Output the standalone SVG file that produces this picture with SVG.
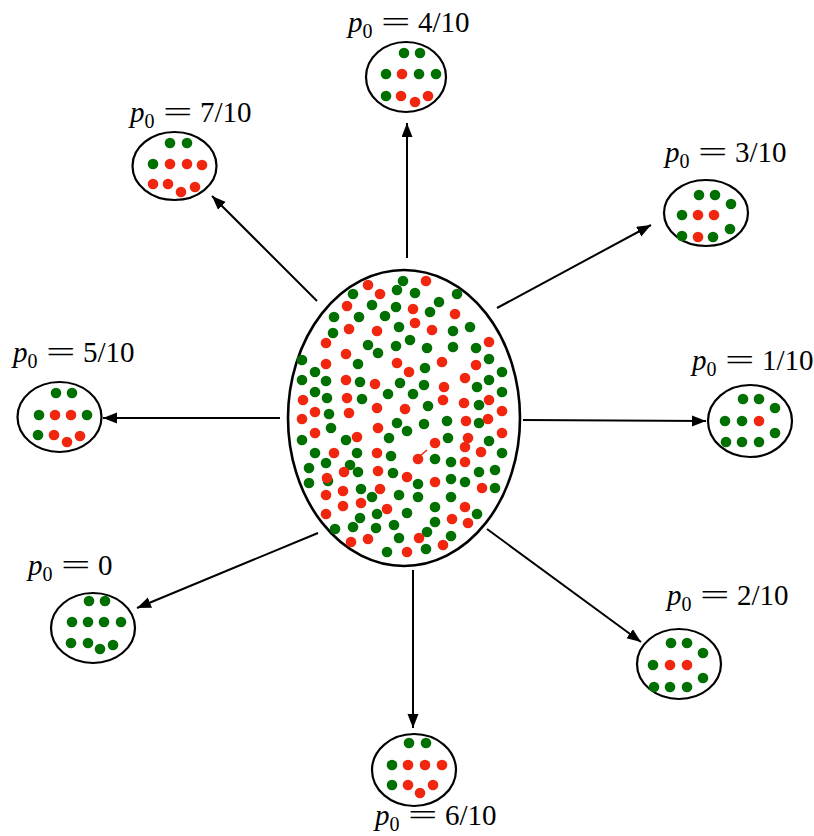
<svg xmlns="http://www.w3.org/2000/svg" width="814" height="836" viewBox="0 0 814 836">
  <style>
    .ring { fill: #ffffff; stroke: #000000; stroke-width: 2.2; }
    .big { stroke-width: 2.6; }
    .g { fill: #007000; }
    .r { fill: #f0260f; }
    .edge { stroke: #000000; stroke-width: 2; fill: none; marker-end: url(#tip); }
    .lbl text { font-family: "Liberation Serif", "Times New Roman", serif; font-size: 29px; fill: #000000; }
    .it { font-style: italic; }
    .sub { font-size: 20px; }
  </style>
  <defs>
    <marker id="tip" markerUnits="userSpaceOnUse" markerWidth="16" markerHeight="12" refX="14" refY="5.5" orient="auto">
      <path d="M0,0 L14,5.5 L0,11 Z" fill="#000000"/>
    </marker>
  </defs>
  <rect width="814" height="836" fill="#ffffff"/>

  <!-- connectors -->
  <g id="connectors">
    <line class="edge" x1="407" y1="258" x2="407" y2="123"/>
    <line class="edge" x1="317" y1="301" x2="212" y2="196"/>
    <line class="edge" x1="497" y1="308" x2="651" y2="225"/>
    <line class="edge" x1="280" y1="418" x2="103" y2="418"/>
    <line class="edge" x1="523" y1="420" x2="706" y2="421"/>
    <line class="edge" x1="318" y1="533" x2="137" y2="608"/>
    <line class="edge" x1="413" y1="570" x2="413" y2="728"/>
    <line class="edge" x1="487" y1="529" x2="641" y2="642"/>
  </g>

  <!-- central population -->
  <g id="population">
    <ellipse class="ring big" cx="404" cy="418" rx="116" ry="148"/>
    <g class="g">
      <circle cx="403" cy="281" r="5.3"/><circle cx="397" cy="290" r="5.3"/><circle cx="353" cy="294" r="5.3"/>
      <circle cx="372" cy="305" r="5.3"/><circle cx="396" cy="307" r="5.3"/><circle cx="334" cy="317" r="5.3"/>
      <circle cx="359" cy="317" r="5.3"/><circle cx="385" cy="316" r="5.3"/><circle cx="333" cy="333" r="5.3"/>
      <circle cx="399" cy="327" r="5.3"/><circle cx="368" cy="345" r="5.3"/><circle cx="378" cy="353" r="5.3"/>
      <circle cx="396" cy="346" r="5.3"/><circle cx="410" cy="340" r="5.3"/><circle cx="302" cy="360" r="5.3"/>
      <circle cx="358" cy="364" r="5.3"/><circle cx="315" cy="372" r="5.3"/><circle cx="302" cy="380" r="5.3"/>
      <circle cx="326" cy="381" r="5.3"/><circle cx="360" cy="382" r="5.3"/><circle cx="400" cy="383" r="5.3"/>
      <circle cx="315" cy="392" r="5.3"/><circle cx="388" cy="394" r="5.3"/><circle cx="327" cy="398" r="5.3"/>
      <circle cx="362" cy="399" r="5.3"/><circle cx="329" cy="414" r="5.3"/>
      <circle cx="415" cy="293" r="5.3"/><circle cx="439" cy="302" r="5.3"/><circle cx="457" cy="294" r="5.3"/>
      <circle cx="430" cy="312" r="5.3"/><circle cx="453" cy="331" r="5.3"/><circle cx="470" cy="327" r="5.3"/>
      <circle cx="427" cy="348" r="5.3"/><circle cx="453" cy="347" r="5.3"/><circle cx="476" cy="348" r="5.3"/>
      <circle cx="489" cy="359" r="5.3"/><circle cx="425" cy="368" r="5.3"/><circle cx="502" cy="372" r="5.3"/>
      <circle cx="489" cy="380" r="5.3"/><circle cx="424" cy="385" r="5.3"/><circle cx="477" cy="387" r="5.3"/>
      <circle cx="502" cy="392" r="5.3"/><circle cx="413" cy="394" r="5.3"/><circle cx="479" cy="405" r="5.3"/>
      <circle cx="428" cy="406" r="5.3"/>
      <circle cx="331" cy="428" r="5.3"/><circle cx="397" cy="423" r="5.3"/><circle cx="407" cy="431" r="5.3"/>
      <circle cx="302" cy="440" r="5.3"/><circle cx="346" cy="440" r="5.3"/><circle cx="389" cy="438" r="5.3"/>
      <circle cx="315" cy="453" r="5.3"/><circle cx="357" cy="453" r="5.3"/><circle cx="391" cy="456" r="5.3"/>
      <circle cx="326" cy="463" r="5.3"/><circle cx="350" cy="465" r="5.3"/><circle cx="309" cy="468" r="5.3"/>
      <circle cx="358" cy="472" r="5.3"/><circle cx="393" cy="473" r="5.3"/><circle cx="328" cy="481" r="5.3"/>
      <circle cx="309" cy="483" r="5.3"/><circle cx="361" cy="489" r="5.3"/><circle cx="372" cy="497" r="5.3"/>
      <circle cx="399" cy="495" r="5.3"/><circle cx="377" cy="514" r="5.3"/><circle cx="407" cy="513" r="5.3"/>
      <circle cx="360" cy="518" r="5.3"/><circle cx="335" cy="529" r="5.3"/><circle cx="353" cy="527" r="5.3"/>
      <circle cx="376" cy="528" r="5.3"/><circle cx="394" cy="525" r="5.3"/><circle cx="399" cy="538" r="5.3"/>
      <circle cx="387" cy="552" r="5.3"/>
      <circle cx="479" cy="423" r="5.3"/><circle cx="447" cy="421" r="5.3"/><circle cx="424" cy="424" r="5.3"/>
      <circle cx="448" cy="438" r="5.3"/><circle cx="489" cy="441" r="5.3"/><circle cx="502" cy="453" r="5.3"/>
      <circle cx="435" cy="459" r="5.3"/><circle cx="451" cy="462" r="5.3"/><circle cx="479" cy="472" r="5.3"/>
      <circle cx="495" cy="470" r="5.3"/><circle cx="418" cy="484" r="5.3"/><circle cx="451" cy="479" r="5.3"/>
      <circle cx="465" cy="482" r="5.3"/><circle cx="495" cy="488" r="5.3"/><circle cx="418" cy="497" r="5.3"/>
      <circle cx="451" cy="497" r="5.3"/><circle cx="435" cy="507" r="5.3"/><circle cx="477" cy="514" r="5.3"/>
      <circle cx="435" cy="522" r="5.3"/><circle cx="427" cy="532" r="5.3"/><circle cx="451" cy="536" r="5.3"/>
      <circle cx="426" cy="549" r="5.3"/>
    </g>
    <g class="r">
      <circle cx="368" cy="285" r="5.3"/><circle cx="380" cy="294" r="5.3"/><circle cx="347" cy="306" r="5.3"/>
      <circle cx="349" cy="329" r="5.3"/><circle cx="377" cy="331" r="5.3"/><circle cx="326" cy="343" r="5.3"/>
      <circle cx="346" cy="354" r="5.3"/><circle cx="326" cy="364" r="5.3"/><circle cx="397" cy="363" r="5.3"/>
      <circle cx="346" cy="380" r="5.3"/><circle cx="375" cy="384" r="5.3"/><circle cx="303" cy="400" r="5.3"/>
      <circle cx="347" cy="398" r="5.3"/><circle cx="377" cy="408" r="5.3"/><circle cx="405" cy="409" r="5.3"/>
      <circle cx="315" cy="412" r="5.3"/><circle cx="349" cy="413" r="5.3"/>
      <circle cx="426" cy="281" r="5.3"/><circle cx="413" cy="309" r="5.3"/><circle cx="455" cy="314" r="5.3"/>
      <circle cx="415" cy="323" r="5.3"/><circle cx="432" cy="330" r="5.3"/><circle cx="489" cy="342" r="5.3"/>
      <circle cx="442" cy="362" r="5.3"/><circle cx="476" cy="365" r="5.3"/><circle cx="409" cy="372" r="5.3"/>
      <circle cx="465" cy="378" r="5.3"/><circle cx="444" cy="387" r="5.3"/><circle cx="443" cy="400" r="5.3"/>
      <circle cx="464" cy="403" r="5.3"/><circle cx="489" cy="400" r="5.3"/><circle cx="502" cy="411" r="5.3"/>
      <circle cx="302" cy="419" r="5.3"/><circle cx="315" cy="433" r="5.3"/><circle cx="378" cy="428" r="5.3"/>
      <circle cx="357" cy="437" r="5.3"/><circle cx="334" cy="453" r="5.3"/><circle cx="377" cy="453" r="5.3"/>
      <circle cx="344" cy="472" r="5.3"/><circle cx="378" cy="471" r="5.3"/><circle cx="407" cy="477" r="5.3"/>
      <circle cx="327" cy="478" r="5.3"/><circle cx="343" cy="491" r="5.3"/><circle cx="380" cy="489" r="5.3"/>
      <circle cx="326" cy="495" r="5.3"/><circle cx="343" cy="506" r="5.3"/><circle cx="361" cy="503" r="5.3"/>
      <circle cx="387" cy="509" r="5.3"/><circle cx="326" cy="514" r="5.3"/><circle cx="351" cy="542" r="5.3"/>
      <circle cx="368" cy="539" r="5.3"/><circle cx="407" cy="552" r="5.3"/>
      <circle cx="488" cy="419" r="5.3"/><circle cx="466" cy="421" r="5.3"/><circle cx="502" cy="433" r="5.3"/>
      <circle cx="468" cy="438" r="5.3"/><circle cx="465" cy="447" r="5.3"/><circle cx="435" cy="443" r="5.3"/>
      <circle cx="481" cy="452" r="5.3"/><circle cx="418" cy="459" r="5.3"/><circle cx="465" cy="462" r="5.3"/>
      <circle cx="435" cy="482" r="5.3"/><circle cx="482" cy="488" r="5.3"/><circle cx="465" cy="507" r="5.3"/>
      <circle cx="452" cy="519" r="5.3"/><circle cx="468" cy="523" r="5.3"/><circle cx="419" cy="538" r="5.3"/>
      <circle cx="443" cy="545" r="5.3"/>
    </g>
    <line x1="420" y1="456" x2="427" y2="450" stroke="#f0260f" stroke-width="1.6"/>
  </g>

  <!-- sample p0 = 4/10 -->
  <g id="sample-4">
    <g class="lbl">
      <text x="348" y="32"><tspan class="it">p</tspan><tspan class="sub" dy="6">0</tspan></text>
      <text transform="translate(381,32) scale(1.8,1)">=</text>
      <text x="418" y="32">4/10</text>
    </g>
    <ellipse class="ring" cx="406" cy="77" rx="40" ry="35"/>
    <circle class="g" cx="404" cy="53" r="5.3"/><circle class="g" cx="420" cy="53" r="5.3"/>
    <circle class="g" cx="386" cy="74" r="5.3"/><circle class="r" cx="402" cy="74" r="5.3"/><circle class="g" cx="419" cy="74" r="5.3"/><circle class="g" cx="436" cy="74" r="5.3"/>
    <circle class="g" cx="386" cy="96" r="5.3"/><circle class="r" cx="401" cy="96" r="5.3"/><circle class="r" cx="415" cy="102" r="5.3"/><circle class="r" cx="428" cy="96" r="5.3"/>
  </g>

  <!-- sample p0 = 7/10 -->
  <g id="sample-7">
    <g class="lbl">
      <text x="130" y="122"><tspan class="it">p</tspan><tspan class="sub" dy="6">0</tspan></text>
      <text transform="translate(163,122) scale(1.8,1)">=</text>
      <text x="200" y="122">7/10</text>
    </g>
    <ellipse class="ring" cx="174.5" cy="166" rx="42" ry="34"/>
    <circle class="g" cx="170" cy="143" r="5.3"/><circle class="g" cx="187" cy="143" r="5.3"/>
    <circle class="g" cx="153" cy="164" r="5.3"/><circle class="r" cx="170" cy="164" r="5.3"/><circle class="r" cx="187" cy="164" r="5.3"/><circle class="r" cx="202" cy="165" r="5.3"/>
    <circle class="r" cx="153" cy="184" r="5.3"/><circle class="r" cx="168" cy="184" r="5.3"/><circle class="r" cx="181" cy="192" r="5.3"/><circle class="r" cx="195" cy="187" r="5.3"/>
  </g>

  <!-- sample p0 = 3/10 -->
  <g id="sample-3">
    <g class="lbl">
      <text x="665" y="162"><tspan class="it">p</tspan><tspan class="sub" dy="6">0</tspan></text>
      <text transform="translate(698,162) scale(1.8,1)">=</text>
      <text x="735" y="162">3/10</text>
    </g>
    <ellipse class="ring" cx="706" cy="213" rx="42" ry="33"/>
    <circle class="g" cx="699" cy="195" r="5.3"/><circle class="g" cx="715" cy="195" r="5.3"/><circle class="g" cx="731" cy="204" r="5.3"/>
    <circle class="g" cx="682" cy="215" r="5.3"/><circle class="r" cx="698" cy="215" r="5.3"/><circle class="r" cx="714" cy="215" r="5.3"/>
    <circle class="g" cx="682" cy="236" r="5.3"/><circle class="r" cx="698" cy="237" r="5.3"/><circle class="g" cx="713" cy="237" r="5.3"/><circle class="g" cx="730" cy="229" r="5.3"/>
  </g>

  <!-- sample p0 = 5/10 -->
  <g id="sample-5">
    <g class="lbl">
      <text x="13" y="362"><tspan class="it">p</tspan><tspan class="sub" dy="6">0</tspan></text>
      <text transform="translate(46,362) scale(1.8,1)">=</text>
      <text x="83" y="362">5/10</text>
    </g>
    <ellipse class="ring" cx="59.5" cy="417" rx="42" ry="35"/>
    <circle class="g" cx="56" cy="393" r="5.3"/><circle class="g" cx="72" cy="393" r="5.3"/>
    <circle class="g" cx="39" cy="415" r="5.3"/><circle class="r" cx="55" cy="415" r="5.3"/><circle class="r" cx="71" cy="415" r="5.3"/><circle class="g" cx="87" cy="415" r="5.3"/>
    <circle class="g" cx="38" cy="435" r="5.3"/><circle class="r" cx="54" cy="435" r="5.3"/><circle class="r" cx="67" cy="442" r="5.3"/><circle class="r" cx="80" cy="436" r="5.3"/>
  </g>

  <!-- sample p0 = 1/10 -->
  <g id="sample-1">
    <g class="lbl">
      <text x="692" y="370"><tspan class="it">p</tspan><tspan class="sub" dy="6">0</tspan></text>
      <text transform="translate(725,370) scale(1.8,1)">=</text>
      <text x="762" y="370">1/10</text>
    </g>
    <ellipse class="ring" cx="750" cy="421" rx="42" ry="36"/>
    <circle class="g" cx="743" cy="399" r="5.3"/><circle class="g" cx="759" cy="399" r="5.3"/><circle class="g" cx="775" cy="408" r="5.3"/>
    <circle class="g" cx="725" cy="421" r="5.3"/><circle class="g" cx="742" cy="421" r="5.3"/><circle class="r" cx="759" cy="421" r="5.3"/>
    <circle class="g" cx="775" cy="433" r="5.3"/><circle class="g" cx="726" cy="442" r="5.3"/><circle class="g" cx="742" cy="442" r="5.3"/><circle class="g" cx="759" cy="442" r="5.3"/>
  </g>

  <!-- sample p0 = 0 -->
  <g id="sample-0">
    <g class="lbl">
      <text x="28" y="575"><tspan class="it">p</tspan><tspan class="sub" dy="6">0</tspan></text>
      <text transform="translate(61,575) scale(1.8,1)">=</text>
      <text x="98" y="575">0</text>
    </g>
    <ellipse class="ring" cx="93" cy="628" rx="42" ry="35"/>
    <circle class="g" cx="89" cy="601" r="5.3"/><circle class="g" cx="105" cy="601" r="5.3"/>
    <circle class="g" cx="72" cy="622" r="5.3"/><circle class="g" cx="88" cy="622" r="5.3"/><circle class="g" cx="104" cy="622" r="5.3"/><circle class="g" cx="121" cy="622" r="5.3"/>
    <circle class="g" cx="71" cy="643" r="5.3"/><circle class="g" cx="88" cy="643" r="5.3"/><circle class="g" cx="100" cy="649" r="5.3"/><circle class="g" cx="113" cy="645" r="5.3"/>
  </g>

  <!-- sample p0 = 2/10 -->
  <g id="sample-2">
    <g class="lbl">
      <text x="667" y="605"><tspan class="it">p</tspan><tspan class="sub" dy="6">0</tspan></text>
      <text transform="translate(700,605) scale(1.8,1)">=</text>
      <text x="737" y="605">2/10</text>
    </g>
    <ellipse class="ring" cx="679" cy="664" rx="42" ry="35"/>
    <circle class="g" cx="671" cy="643" r="5.3"/><circle class="g" cx="687" cy="643" r="5.3"/><circle class="g" cx="703" cy="653" r="5.3"/>
    <circle class="g" cx="653" cy="665" r="5.3"/><circle class="r" cx="670" cy="665" r="5.3"/><circle class="r" cx="687" cy="665" r="5.3"/>
    <circle class="g" cx="703" cy="678" r="5.3"/><circle class="g" cx="654" cy="687" r="5.3"/><circle class="g" cx="670" cy="687" r="5.3"/><circle class="g" cx="687" cy="687" r="5.3"/>
  </g>

  <!-- sample p0 = 6/10 -->
  <g id="sample-6">
    <ellipse class="ring" cx="414" cy="770" rx="42" ry="36"/>
    <circle class="g" cx="409" cy="743" r="5.3"/><circle class="g" cx="426" cy="743" r="5.3"/>
    <circle class="g" cx="392" cy="765" r="5.3"/><circle class="r" cx="408" cy="765" r="5.3"/><circle class="r" cx="425" cy="765" r="5.3"/><circle class="r" cx="442" cy="765" r="5.3"/>
    <circle class="g" cx="392" cy="785" r="5.3"/><circle class="r" cx="408" cy="785" r="5.3"/><circle class="r" cx="420" cy="793" r="5.3"/><circle class="r" cx="433" cy="785" r="5.3"/>
    <g class="lbl">
      <text x="375" y="825"><tspan class="it">p</tspan><tspan class="sub" dy="6">0</tspan></text>
      <text transform="translate(408,825) scale(1.8,1)">=</text>
      <text x="445" y="825">6/10</text>
    </g>
  </g>
</svg>
